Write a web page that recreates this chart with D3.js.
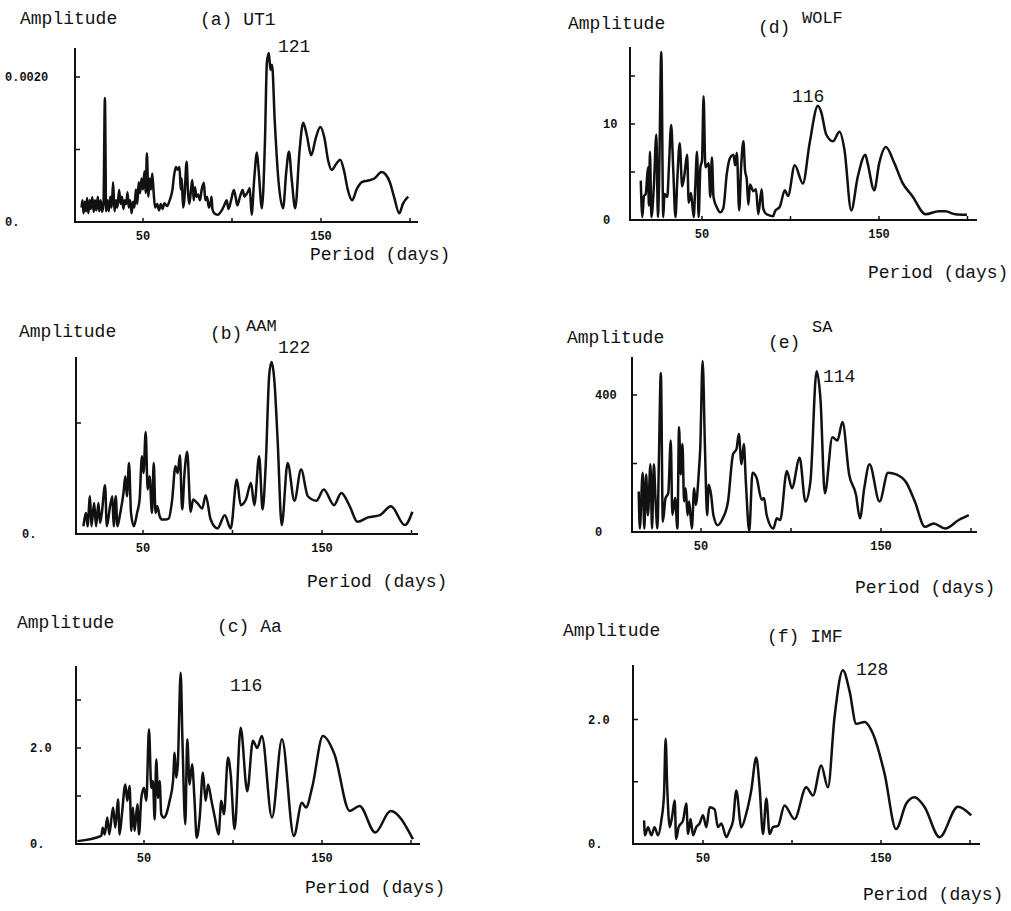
<!DOCTYPE html>
<html>
<head>
<meta charset="utf-8">
<script src="https://cdn.jsdelivr.net/npm/d3@7/dist/d3.min.js"></script>
<style>
  body { margin: 0; background: #fff; }
  text { font-family: "Liberation Mono", "DejaVu Sans Mono", monospace; fill: #111; }
</style>
</head>
<body>
<div id="chart"></div>
<script>
// spectra: [period (days), amplitude]
// UT1 amplitude in units of 0.001
var ut1 = [[15.5,0.2],[16,0.3],[16.6,0.12],[17.3,0.28],[18,0.15],[18.6,0.33],[19.3,0.12],[20,0.3],[20.7,0.18],[21.5,0.34],[22.3,0.14],[23,0.3],[23.8,0.16],[24.6,0.35],[25.4,0.15],[26.2,0.3],[27,0.14],[27.8,0.25],[28.6,1.71],[29.3,0.15],[30,0.3],[30.8,0.15],[31.6,0.35],[32.4,0.2],[33.2,0.55],[34,0.15],[34.8,0.3],[35.6,0.2],[36.6,0.44],[37.4,0.25],[38.2,0.35],[39,0.18],[39.8,0.3],[40.6,0.25],[41.3,0.41],[42,0.2],[42.8,0.3],[43.6,0.12],[44.4,0.28],[45.2,0.2],[46,0.45],[46.8,0.25],[47.6,0.55],[48.4,0.4],[49.2,0.6],[50,0.45],[50.8,0.7],[51.5,0.4],[52.2,0.95],[53,0.35],[53.8,0.6],[54.5,0.45],[55.2,0.67],[56,0.4],[56.8,0.2],[58,0.25],[59,0.16],[60,0.25],[61,0.18],[62,0.26],[63.5,0.22],[65,0.3],[66.5,0.44],[67.5,0.65],[68.5,0.76],[69.5,0.72],[70.5,0.76],[71.2,0.45],[71.8,0.6],[72.5,0.2],[73.2,0.3],[74.5,0.83],[75.3,0.4],[76,0.25],[77,0.45],[77.7,0.58],[78.5,0.3],[79.2,0.48],[80,0.35],[81,0.38],[82,0.3],[83,0.45],[84.2,0.54],[85,0.3],[86,0.35],[87,0.2],[88,0.27],[88.5,0.35],[89,0.18],[90,0.12],[92,0.1],[94,0.15],[96,0.25],[97,0.3],[98,0.18],[99.5,0.3],[101,0.44],[102,0.35],[103,0.23],[104.5,0.35],[106,0.44],[107,0.35],[108,0.38],[109,0.42],[110,0.47],[111,0.1],[112.5,0.6],[114,0.96],[115,0.7],[116.8,0.19],[118.5,1.1],[119.6,2.2],[120.7,2.33],[121.6,2.1],[122.5,2.17],[124,1.4],[126,0.6],[128.7,0.19],[130.5,0.7],[132,0.97],[133.5,0.6],[135.5,0.19],[138,1.0],[140,1.37],[142,1.2],[144.5,0.92],[147,1.15],[149.6,1.31],[152,1.15],[154,0.85],[156,0.72],[158.5,0.8],[160.8,0.86],[163,0.7],[165,0.45],[167.5,0.3],[170,0.45],[173,0.55],[176,0.57],[180,0.6],[184,0.69],[186.5,0.65],[188.8,0.54],[191,0.35],[194,0.12],[196,0.25],[199,0.35]];

var aam = [[16.7,0.07],[17.5,0.15],[18.2,0.19],[19,0.07],[20.4,0.34],[21.2,0.07],[22.7,0.28],[23.8,0.07],[25.1,0.28],[26,0.1],[27,0.19],[28.8,0.44],[29.8,0.07],[31.6,0.25],[32.9,0.34],[33.6,0.07],[34.8,0.34],[35.7,0.07],[37.3,0.19],[39.1,0.37],[40.1,0.52],[41,0.34],[42.2,0.64],[43.3,0.19],[44.9,0.07],[46.7,0.19],[48.1,0.31],[49.4,0.7],[50.3,0.55],[51.5,0.92],[52.6,0.4],[53.7,0.52],[55,0.19],[56,0.64],[57,0.19],[58,0.25],[59.3,0.16],[60.6,0.13],[62.5,0.13],[64.4,0.14],[66.3,0.31],[68.1,0.61],[69.4,0.55],[70.6,0.71],[71.9,0.22],[73.2,0.55],[74.7,0.74],[76.6,0.2],[78,0.31],[80.3,0.28],[83.1,0.23],[85,0.35],[87.8,0.13],[91.6,0.05],[95.7,0.17],[99,0.05],[102.4,0.49],[104.6,0.26],[107.5,0.31],[110.3,0.46],[112.2,0.26],[114.9,0.7],[116.8,0.22],[118.6,0.64],[120.5,1.43],[121.8,1.55],[123.3,1.4],[125.2,0.85],[127.5,0.08],[130.8,0.64],[134.6,0.3],[138.3,0.58],[142.1,0.34],[146.8,0.3],[151,0.4],[156.7,0.26],[160.8,0.37],[165.5,0.25],[169.8,0.11],[175.8,0.15],[182.3,0.17],[188.5,0.25],[196.3,0.08],[200.5,0.2]];

var aa = [[12.6,0.06],[26,0.17],[26.8,0.34],[27.9,0.2],[29.4,0.55],[30.5,0.2],[32.6,0.76],[33.9,0.34],[35.4,0.93],[36.3,0.2],[37.6,0.62],[39.5,1.24],[40.6,0.9],[41.9,1.21],[42.9,0.27],[43.8,0.76],[44.7,0.27],[46.3,0.83],[47.2,0.2],[48.5,0.96],[50,1.17],[51.3,0.9],[52.8,2.39],[54.1,1.17],[55,1.31],[56,0.51],[56.9,1.76],[57.9,0.96],[58.8,1.31],[59.7,0.62],[61.2,0.55],[62.5,0.62],[64.4,0.9],[66.3,1.31],[67.2,1.9],[68.1,1.38],[69,1.66],[70.6,3.57],[71.6,2.15],[73.2,0.41],[74.3,2.18],[75.6,1.24],[77,1.66],[78.4,0.9],[79.6,0.13],[81.3,0.55],[83.1,1.49],[84.6,0.9],[86,1.24],[87.9,0.9],[89.8,0.55],[91.9,0.2],[93.4,0.9],[94.9,0.62],[97.2,1.8],[98.7,1.45],[100.9,0.31],[104.3,2.42],[108,1.1],[111.2,2.15],[113.6,2.0],[116.2,2.25],[121.9,0.55],[127.5,2.18],[134.2,0.17],[138.7,0.86],[141,0.76],[144.6,1.2],[150.5,2.25],[157,1.87],[165.5,0.69],[171.1,0.79],[179.9,0.24],[188.5,0.69],[201.1,0.1]];

var wolf = [[15.4,4.1],[16.3,0.3],[17.2,2.5],[18.2,2.7],[19.5,5.5],[20,1.5],[20.6,7.1],[21.4,0.3],[22.8,3.5],[24.2,8.9],[25.1,0.3],[25.7,3.5],[27,17.5],[28.1,0.3],[28.8,2.7],[30.4,2.4],[31.3,5.5],[32.6,9.9],[33.7,5.5],[35,0.3],[36,4],[37.4,8],[38.8,3.5],[40,4.6],[41.6,6.8],[42.5,1.8],[43.8,2.8],[45.3,0.3],[46.2,3.5],[47.2,7.1],[48.1,0.3],[49.1,5.5],[50,6.2],[50.9,12.9],[51.9,5.5],[53.7,5.9],[54.7,2.4],[55.6,6.5],[56.5,2.4],[58.4,1.3],[60.3,0.8],[62.1,1.3],[64,4.8],[65.9,6.5],[67.8,6.8],[68.7,5.7],[69.7,7],[71,1],[72.1,5.5],[73.4,8.2],[74.3,5.2],[75.3,4.2],[76.2,1.6],[77.1,3.7],[79,3],[80.5,3.2],[81.8,0.6],[83.7,3.2],[84.6,1.2],[86.5,0.6],[90.2,0.4],[91.2,0.9],[94,1.4],[96.8,3.1],[98.6,2.5],[102.4,5.7],[107,3.8],[110.8,8],[115.5,11.9],[117.4,11.2],[120.2,8.9],[124,8.2],[127.7,9.2],[130.5,7.3],[134.3,1],[138,4.5],[142.3,6.8],[143.6,5.9],[147.3,3.1],[150.1,5.9],[153.9,7.6],[158.5,6],[163.2,3.9],[168.8,2.5],[176.3,0.6],[183.8,0.9],[187.5,0.9],[193.1,0.6],[199.7,0.55]];

var sa = [[15.4,118],[16,10],[17.6,173],[18.5,10],[19.5,168],[20.5,49],[21.9,198],[22.8,10],[23.8,198],[24.7,99],[25.8,10],[26.6,207],[27.7,464],[28.8,30],[30.3,99],[31.8,113],[33.2,267],[34.1,50],[35.6,99],[36.9,10],[37.8,306],[38.7,168],[39.7,257],[40.6,89],[41.5,128],[42.5,49],[43.4,89],[44.9,10],[46.2,128],[47.1,79],[48.7,168],[49.6,247],[50.9,499],[52.2,247],[53.4,49],[54.3,138],[55.6,109],[56.9,49],[59.3,20],[62.1,40],[65,89],[67.8,227],[69.7,242],[71,286],[72.5,198],[73.8,257],[74.9,148],[76.8,3],[78.6,173],[80.9,158],[83.7,94],[85,99],[86.5,49],[90.2,10],[92.1,40],[94,35],[97.7,178],[100.5,128],[104.8,217],[108,89],[110.8,148],[114.2,469],[116.4,385],[118.8,113],[123,277],[125.8,267],[128.6,321],[132.3,168],[136.1,109],[138.3,40],[140.7,128],[143.6,198],[149.2,89],[153.9,173],[158.5,168],[164.2,143],[168.8,89],[174.4,15],[179.2,25],[185.7,10],[193.2,35],[198.8,49]];

var imf = [[16.9,0.38],[17.4,0.14],[19.1,0.27],[21,0.14],[22.8,0.27],[24.7,0.14],[26.6,0.38],[28.1,0.8],[29,1.69],[29.9,0.91],[31.3,0.27],[32.6,0.43],[34.1,0.7],[34.9,0.08],[36.3,0.27],[38.8,0.38],[40.6,0.65],[41.6,0.16],[43,0.4],[44.4,0.14],[46.2,0.27],[48.1,0.33],[50,0.46],[51.9,0.27],[53.7,0.59],[56.5,0.56],[58.4,0.27],[60.3,0.33],[63.1,0.11],[65,0.22],[66.9,0.38],[68.7,0.86],[71.5,0.27],[74.3,0.49],[77.1,0.86],[79.9,1.39],[81.8,0.91],[83.7,0.16],[85.6,0.73],[87.4,0.16],[89.3,0.27],[92.1,0.29],[95.8,0.62],[101.4,0.4],[108,0.91],[111.8,0.78],[116.4,1.26],[120.2,0.91],[123.9,2.04],[128.6,2.79],[132.3,2.46],[136.1,1.93],[140.8,1.96],[145.5,1.77],[152,1.13],[158.5,0.24],[164.2,0.65],[168.8,0.75],[174.4,0.6],[182.9,0.11],[193.2,0.6],[200.7,0.46]];

// tick values and labels
var xTicks = [50, 100, 150, 200];
var xTickLabels = [50, 150];
var titles = ["(a) UT1", "(b)", "(c) Aa", "(d)", "(e)", "(f) IMF"];
var subTitles = ["", "AAM", "", "WOLF", "SA", ""];
var peakLabels = ["121", "122", "116", "116", "114", "128"];

// layout of each panel (pixels)
var panels = [
  { data: ut1, x50: 143, x150: 321, axL: 75, axR: 418, y0: 222, yRef: 2, yRefPx: 77, top: 48,
    yTicks: [1, 2], yLabels: [[0, "0."], [2, "0.0020"]], labX: 5,
    amp: [20, 24], title: [200, 25], sub: null, peak: [278, 52], per: [310, 260] },
  { data: aam, x50: 143, x150: 322, axL: 76, axR: 418, y0: 534, yRef: 1, yRefPx: 423, top: 357,
    yTicks: [1], yLabels: [[0, "0."]], labX: 22,
    amp: [19, 337], title: [210, 339], sub: [246, 331], peak: [278, 353], per: [307, 587] },
  { data: aa, x50: 144, x150: 322, axL: 76, axR: 420, y0: 844, yRef: 2, yRefPx: 748, top: 666,
    yTicks: [1, 2, 3], yLabels: [[0, "0."], [2, "2.0"]], labX: 30,
    amp: [17, 628], title: [217, 632], sub: null, peak: [230, 691], per: [305, 893] },
  { data: wolf, x50: 702, x150: 879, axL: 630, axR: 977, y0: 220, yRef: 10, yRefPx: 124, top: 47,
    yTicks: [5, 10, 15], yLabels: [[0, "0"], [10, "10"]], labX: 603,
    amp: [568, 29], title: [758, 33], sub: [802, 23], peak: [792, 102], per: [868, 278] },
  { data: sa, x50: 701, x150: 881, axL: 632, axR: 977, y0: 532, yRef: 400, yRefPx: 395, top: 357,
    yTicks: [200, 400], yLabels: [[0, "0"], [400, "400"]], labX: 595,
    amp: [567, 343], title: [768, 348], sub: [812, 332], peak: [823, 382], per: [855, 593] },
  { data: imf, x50: 703, x150: 881, axL: 633, axR: 980, y0: 844, yRef: 2, yRefPx: 719.5, top: 665,
    yTicks: [1, 2], yLabels: [[0, "0."], [2, "2.0"]], labX: 588,
    amp: [563, 636], title: [767, 642], sub: null, peak: [856, 675], per: [863, 900] }
];

var svg = d3.select("#chart")
  .append("svg")
  .attr("width", 1011)
  .attr("height", 911);

panels.forEach(function (p, i) {
  var x = d3.scaleLinear().domain([50, 150]).range([p.x50, p.x150]);
  var y = d3.scaleLinear().domain([0, p.yRef]).range([p.y0, p.yRefPx]);
  var g = svg.append("g");

  // axes
  g.append("line")
    .attr("x1", p.axL).attr("x2", p.axR)
    .attr("y1", p.y0).attr("y2", p.y0)
    .attr("stroke", "#111").attr("stroke-width", 2);
  g.append("line")
    .attr("x1", p.axL).attr("x2", p.axL)
    .attr("y1", p.y0 + 1).attr("y2", p.top)
    .attr("stroke", "#111").attr("stroke-width", 2);

  g.selectAll("line.xt")
    .data(xTicks)
    .enter()
    .append("line")
    .attr("class", "xt")
    .attr("x1", function (d) { return x(d); })
    .attr("x2", function (d) { return x(d); })
    .attr("y1", p.y0)
    .attr("y2", p.y0 - 4)
    .attr("stroke", "#111").attr("stroke-width", 1.5);

  g.selectAll("line.yt")
    .data(p.yTicks)
    .enter()
    .append("line")
    .attr("class", "yt")
    .attr("x1", p.axL)
    .attr("x2", p.axL + 5)
    .attr("y1", function (d) { return y(d); })
    .attr("y2", function (d) { return y(d); })
    .attr("stroke", "#111").attr("stroke-width", 1.5);

  g.selectAll("text.xl")
    .data(xTickLabels)
    .enter()
    .append("text")
    .attr("class", "xl")
    .attr("x", function (d) { return x(d); })
    .attr("y", p.y0 + 18)
    .attr("text-anchor", "middle")
    .style("font-size", "12px")
    .style("font-weight", "bold")
    .text(function (d) { return d; });

  g.selectAll("text.yl")
    .data(p.yLabels)
    .enter()
    .append("text")
    .attr("class", "yl")
    .attr("x", p.labX)
    .attr("y", function (d) { return y(d[0]) + 4; })
    .style("font-size", "12px")
    .style("font-weight", "bold")
    .text(function (d) { return d[1]; });

  // spectrum
  var line = d3.line()
    .x(function (d) { return x(d[0]); })
    .y(function (d) { return y(d[1]); })
    .curve(d3.curveMonotoneX);

  g.append("path")
    .datum(p.data)
    .attr("d", line)
    .attr("fill", "none")
    .attr("stroke", "#111")
    .attr("stroke-width", 2.5)
    .attr("stroke-linejoin", "round");

  // labels
  g.append("text").attr("x", p.amp[0]).attr("y", p.amp[1])
    .style("font-size", "18px").text("Amplitude");
  g.append("text").attr("x", p.title[0]).attr("y", p.title[1])
    .style("font-size", "18px").text(titles[i]);
  if (p.sub) {
    g.append("text").attr("x", p.sub[0]).attr("y", p.sub[1])
      .style("font-size", "17px").text(subTitles[i]);
  }
  g.append("text").attr("x", p.peak[0]).attr("y", p.peak[1])
    .style("font-size", "18px").text(peakLabels[i]);
  g.append("text").attr("x", p.per[0]).attr("y", p.per[1])
    .style("font-size", "18px").text("Period (days)");
});
</script>
</body>
</html>
